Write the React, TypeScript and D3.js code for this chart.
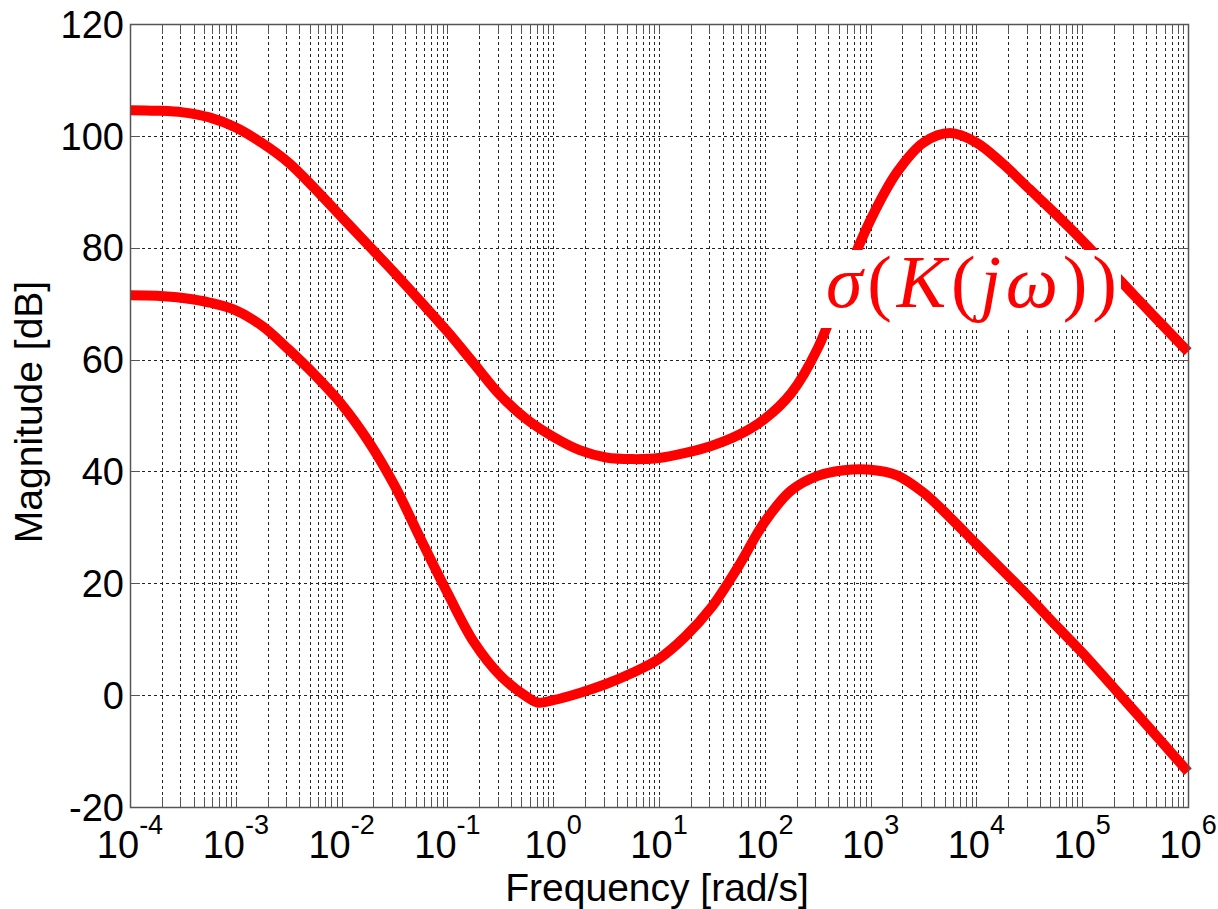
import React from "react";
import * as d3 from "d3";

// log10 of frequency [rad/s] and magnitude [dB]
const upperExp = [-4, -3.75, -3.5, -3.25, -3, -2.75, -2.5, -2.25, -2, -1.75, -1.5, -1.25, -1, -0.75, -0.5, -0.25, 0, 0.25, 0.5, 0.75, 1, 1.25, 1.5, 1.75, 2, 2.25, 2.5, 2.75, 3, 3.25, 3.5, 3.75, 4, 4.25, 4.5, 4.75, 5, 5.5, 6];
const upperDb = [104.6, 104.5, 104.2, 103.3, 101.5, 98.7, 95.2, 90.5, 85.5, 80.5, 75.5, 70.3, 65.0, 59.3, 53.6, 49.3, 46.2, 43.8, 42.5, 42.2, 42.4, 43.3, 44.6, 46.5, 49.4, 54.0, 62.0, 74.0, 85.0, 93.5, 98.8, 100.5, 98.8, 95.0, 90.5, 86.0, 81.3, 71.3, 61.4];

const lowerExp = [-4, -3.75, -3.5, -3.25, -3, -2.75, -2.5, -2.25, -2, -1.75, -1.5, -1.25, -1, -0.75, -0.5, -0.25, -0.14, 0, 0.25, 0.5, 0.75, 1, 1.25, 1.5, 1.75, 2, 2.25, 2.5, 2.75, 3, 3.25, 3.5, 3.75, 4, 4.25, 4.5, 4.75, 5, 5.5, 6];
const lowerDb = [71.5, 71.4, 71.0, 70.2, 68.8, 66.0, 61.8, 57.2, 52.0, 45.5, 37.5, 27.8, 18.3, 9.5, 3.5, -0.3, -1.35, -0.9, 0.4, 2.0, 4.0, 6.5, 10.5, 15.8, 23.0, 31.0, 36.6, 39.2, 40.2, 40.3, 39.3, 36.2, 31.8, 27.0, 22.3, 17.5, 12.5, 7.6, -3.0, -13.7];

const xDecades = [-4, -3, -2, -1, 0, 1, 2, 3, 4, 5, 6];
const yTicks = [-20, 0, 20, 40, 60, 80, 100, 120];
const xLabel = "Frequency [rad/s]";
const yLabel = "Magnitude [dB]";

const W = 1218, H = 909;
const L = 130, R = 1188, T = 24, B = 807;

export default function App() {
  const x = d3.scaleLog().domain([1e-4, 1e6]).range([L, R]);
  const y = d3.scaleLinear().domain([-20, 120]).range([B, T]);
  const px = (v: number) => Math.round(x(v)) + 0.5;
  const py = (v: number) => Math.round(y(v)) + 0.5;

  const minor: number[] = [];
  for (let d = -4; d < 6; d++) {
    for (let k = 2; k <= 9; k++) minor.push(k * Math.pow(10, d));
  }
  const majors = xDecades.map((e) => Math.pow(10, e));

  const line = d3
    .line<[number, number]>()
    .x((d) => x(d[0]))
    .y((d) => y(d[1]))
    .curve(d3.curveCatmullRom.alpha(0.5));

  const upper = upperExp.map((e, i) => [Math.pow(10, e), upperDb[i]] as [number, number]);
  const lower = lowerExp.map((e, i) => [Math.pow(10, e), lowerDb[i]] as [number, number]);

  const grid = "#222";
  const dash = "3,3";
  const frame = "#555";
  const font = "'Liberation Sans', Arial, sans-serif";
  const serif = "'Liberation Serif', 'Times New Roman', serif";

  return (
    <svg width={W} height={H} style={{ position: "absolute", left: 0, top: 0, background: "#fff" }}>
      <rect x={0} y={0} width={W} height={H} fill="#fff" />
      <g shapeRendering="crispEdges">
        {[...minor, ...majors].map((v, i) => (
          <line key={"vg" + i} x1={px(v)} x2={px(v)} y1={T} y2={B} stroke={grid} strokeWidth={1} strokeDasharray={dash} />
        ))}
        {yTicks.map((v) => (
          <line key={"hg" + v} x1={L} x2={R} y1={py(v)} y2={py(v)} stroke={grid} strokeWidth={1} strokeDasharray={dash} />
        ))}
        {[...minor, ...majors].map((v, i) => (
          <g key={"xt" + i}>
            <line x1={px(v)} x2={px(v)} y1={B} y2={B - 10} stroke={frame} strokeWidth={1} />
            <line x1={px(v)} x2={px(v)} y1={T} y2={T + 10} stroke={frame} strokeWidth={1} />
          </g>
        ))}
        {yTicks.map((v) => (
          <g key={"yt" + v}>
            <line x1={L} x2={L + 10} y1={py(v)} y2={py(v)} stroke={frame} strokeWidth={1} />
            <line x1={R} x2={R - 10} y1={py(v)} y2={py(v)} stroke={frame} strokeWidth={1} />
          </g>
        ))}
      </g>
      <path d={line(upper) || ""} fill="none" stroke="#ff0000" strokeWidth={10} strokeLinejoin="round" />
      <path d={line(lower) || ""} fill="none" stroke="#ff0000" strokeWidth={10} strokeLinejoin="round" />
      <rect x={L + 0.5} y={T + 0.5} width={R - L} height={B - T} fill="none" stroke={frame} strokeWidth={1.5} />
      {/* annotation */}
      <rect x={818} y={250} width={303} height={78} fill="#fff" />
      <text x={826} y={307} fontSize={74} fill="#ff0000" fontFamily={serif} textLength={291} lengthAdjust="spacing">
        <tspan fontStyle="italic">σ</tspan>(<tspan fontStyle="italic">K</tspan>(<tspan fontStyle="italic">jω</tspan>))
      </text>
      {yTicks.map((v) => (
        <text key={"yl" + v} x={124} y={y(v)} dy="0.36em" textAnchor="end" fontSize={38} fontFamily={font} fill="#000">
          {v}
        </text>
      ))}
      {xDecades.map((e) => (
        <text key={"xl" + e} x={x(Math.pow(10, e))} y={858} textAnchor="middle" fontSize={38} fontFamily={font} fill="#000">
          10
          <tspan dy={-24} fontSize={27}>{e}</tspan>
        </text>
      ))}
      <text x={657} y={901} textAnchor="middle" fontSize={39} fontFamily={font} fill="#000">
        {xLabel}
      </text>
      <text transform={`translate(42,412) rotate(-90)`} textAnchor="middle" fontSize={39} fontFamily={font} fill="#000">
        {yLabel}
      </text>
    </svg>
  );
}
